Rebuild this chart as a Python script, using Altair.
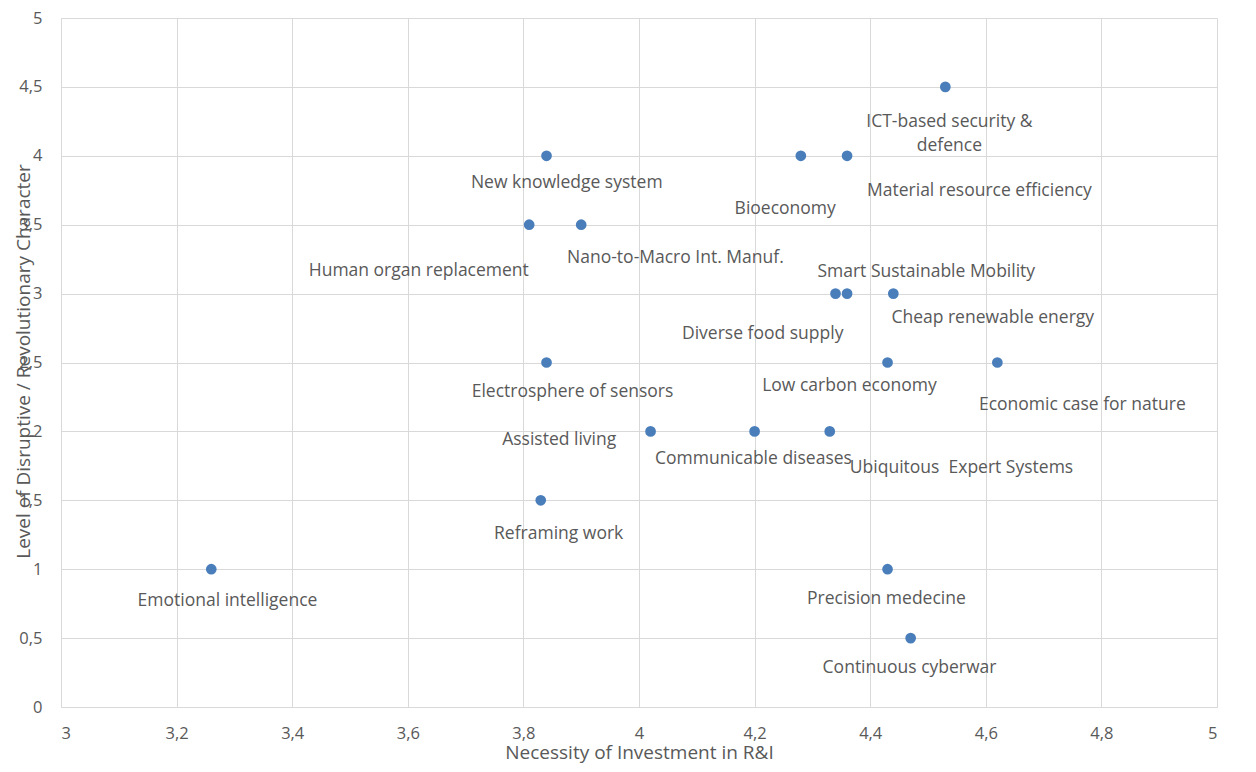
import altair as alt
import pandas as pd

# Data
labels = [
    "ICT-based security &\ndefence", "New knowledge system", "Bioeconomy",
    "Material resource efficiency", "Human organ replacement", "Nano-to-Macro Int. Manuf.",
    "Smart Sustainable Mobility", "Diverse food supply", "Cheap renewable energy",
    "Electrosphere of sensors", "Low carbon economy", "Economic case for nature",
    "Assisted living", "Communicable diseases", "Ubiquitous\u00a0 Expert Systems",
    "Reframing work", "Emotional intelligence", "Precision medecine", "Continuous cyberwar",
]
necessity = [4.53, 3.84, 4.28, 4.36, 3.81, 3.90, 4.36, 4.34, 4.44,
             3.84, 4.43, 4.62, 4.02, 4.20, 4.33, 3.83, 3.26, 4.43, 4.47]
disruptive = [4.5, 4.0, 4.0, 4.0, 3.5, 3.5, 3.0, 3.0, 3.0,
              2.5, 2.5, 2.5, 2.0, 2.0, 2.0, 1.5, 1.0, 1.0, 0.5]
# data-label anchor positions (in data units, as placed in the original chart)
label_x = [4.537, 3.875, 4.253, 4.589, 3.619, 4.063, 4.497, 4.214, 4.612,
           3.885, 4.364, 4.767, 3.862, 4.198, 4.558, 3.861, 3.288, 4.428, 4.468]
label_y = [4.247, 3.799, 3.611, 3.741, 3.162, 3.256, 3.155, 2.706, 2.822,
           2.287, 2.330, 2.192, 1.939, 1.802, 1.737, 1.252, 0.767, 0.781, 0.282]

x_ticks = [3, 3.2, 3.4, 3.6, 3.8, 4, 4.2, 4.4, 4.6, 4.8, 5]
y_ticks = [0, 0.5, 1, 1.5, 2, 2.5, 3, 3.5, 4, 4.5, 5]

df = pd.DataFrame({
    "label": labels, "x": necessity, "y": disruptive,
    "lx": label_x, "ly": label_y,
})

FONT = "Open Sans"
GRAY = "#595959"
GRID = "#d9d9d9"
comma = "replace(datum.label, '.', ',')"

xscale = alt.Scale(domain=[3, 5], nice=False, zero=False)
yscale = alt.Scale(domain=[0, 5], nice=False, zero=False)

base = alt.Chart(df)

points = base.mark_circle(size=115, color="#4a7ebb", opacity=1).encode(
    x=alt.X("x:Q", scale=xscale,
            axis=alt.Axis(values=x_ticks, format="~g", labelExpr=comma,
                          title="Necessity of Investment in R&I",
                          labelPadding=18, titleY=51, titleBaseline="alphabetic")),
    y=alt.Y("y:Q", scale=yscale,
            axis=alt.Axis(values=y_ticks, format="~g", labelExpr=comma,
                          title="Level of Disruptive / Revolutionary Character",
                          labelPadding=19, titleX=-28, titleY=343,
                          titleAngle=-90, titleBaseline="bottom", titleAlign="center")),
)

texts = base.mark_text(font=FONT, fontSize=17.5, color=GRAY, align="center",
                       baseline="middle", lineBreak="\n", lineHeight=24).encode(
    x=alt.X("lx:Q", scale=xscale),
    y=alt.Y("ly:Q", scale=yscale),
    text="label:N",
)

chart = (texts + points).properties(
    width=1156, height=689,
    autosize=alt.AutoSizeParams(type="none"),
    padding={"left": 53, "top": 10, "right": 30, "bottom": 57},
).configure_view(stroke=None).configure_axis(
    domainColor=GRID, gridColor=GRID, grid=True, ticks=False,
    labelColor=GRAY, labelFont=FONT, labelFontSize=16.5,
    titleColor=GRAY, titleFont=FONT, titleFontSize=19, titleFontWeight="normal",
)

chart.save("out.html", embed_options={"renderer": "svg", "actions": False})
